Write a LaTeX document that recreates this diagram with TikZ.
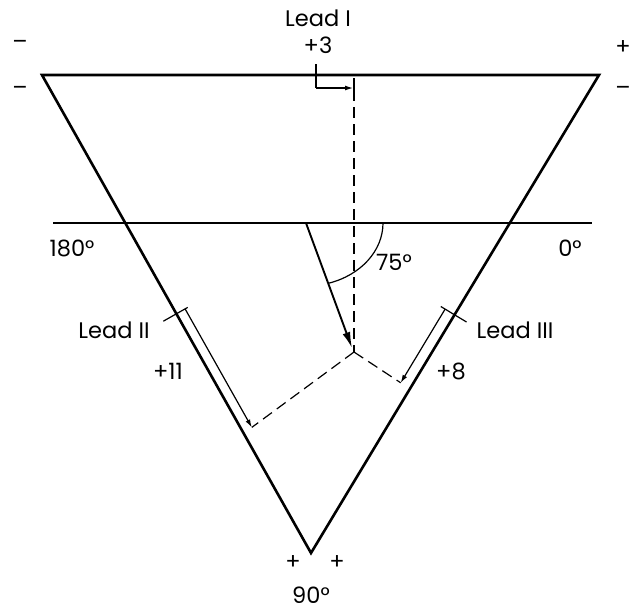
\documentclass[tikz,border=0pt]{standalone}
\usepackage{fontspec}
\setmainfont{Poppins}
\usetikzlibrary{arrows.meta}
\begin{document}
\begin{tikzpicture}[x=1pt,y=-1pt,
  side/.style={line width=2.6pt,line join=miter},
  axisln/.style={line width=1.3pt},
  dashln/.style={line width=1.2pt,dash pattern=on 11pt off 6pt},
  brk/.style={line width=1.2pt},
  smallarr/.style={brk,-{Latex[length=8pt,width=5pt]}},
  lbl/.style={font=\fontsize{22.5}{24}\selectfont,inner sep=0pt}]
\useasboundingbox (0,0) rectangle (639,611);
% triangle
\coordinate (TL) at (42,75);
\coordinate (TR) at (599,75);
\coordinate (B) at (311,553);
\draw[side] (TL) -- (TR) -- (B) -- cycle;
% horizontal axis
\coordinate (HL) at (53,223);
\coordinate (HR) at (592,223);
\draw[axisln] (HL) -- (HR);
% mean axis arrow
\coordinate (O) at (306,223);
\coordinate (P) at (352,348);
\coordinate (Q) at (354,352);
\coordinate (A0) at (383,223);
\draw[line width=1.9pt,-{Latex[length=16pt,width=8pt]}] (O) -- (P);
\draw[brk] (A0) arc[start angle=0,end angle=73,x radius=77,y radius=63];
% lead I projection
\coordinate (I0t) at (316,64);
\coordinate (I0b) at (316,88);
\coordinate (I1t) at (354,78);
\coordinate (I1b) at (354,90);
\coordinate (I1a) at (353,88);
\draw[brk] (I0t) -- (I0b);
\draw[smallarr] (I0b) -- (I1a);
\draw[brk] (I1t) -- (I1b);
\draw[dashln] (I1b) -- (Q);
% lead II projection
\coordinate (II0o) at (163.3,321.2);
\coordinate (II0i) at (187.7,307.4);
\coordinate (II0) at (185.1,308.9);
\coordinate (II1) at (251.8,427.4);
\draw[brk] (II0o) -- (II0i);
\draw[smallarr] (II0) -- (II1);
\draw[dashln] (Q) -- (II1);
% lead III projection
\coordinate (III0i) at (440.8,306.5);
\coordinate (III0o) at (466.5,322);
\coordinate (III0) at (445.1,309.1);
\coordinate (III1) at (400.7,382.8);
\draw[brk] (III0i) -- (III0o);
\draw[smallarr] (III0) -- (III1);
\draw[dashln] (Q) -- (III1);
% labels
\node[lbl] (leadI) at (318,18) {Lead I};
\node[lbl] (pI) at (318,45) {+3};
\node[lbl] (mTL) at (20,45) {–};
\node[lbl] (mTL2) at (20,91) {–};
\node[lbl] (pTR) at (623,48) {+};
\node[lbl] (mTR) at (623,91) {–};
\node[lbl] (d180) at (72,248) {180°};
\node[lbl] (d0) at (570,248) {0°};
\node[lbl] (d75) at (394,262) {75°};
\node[lbl] (leadII) at (114,330) {Lead II};
\node[lbl] (pII) at (168,371) {+11};
\node[lbl] (leadIII) at (515,330) {Lead III};
\node[lbl] (pIII) at (451,371) {+8};
\node[lbl] (pB1) at (293,563) {+};
\node[lbl] (pB2) at (337,563) {+};
\node[lbl] (d90) at (311,595) {90°};
\end{tikzpicture}
\end{document}
